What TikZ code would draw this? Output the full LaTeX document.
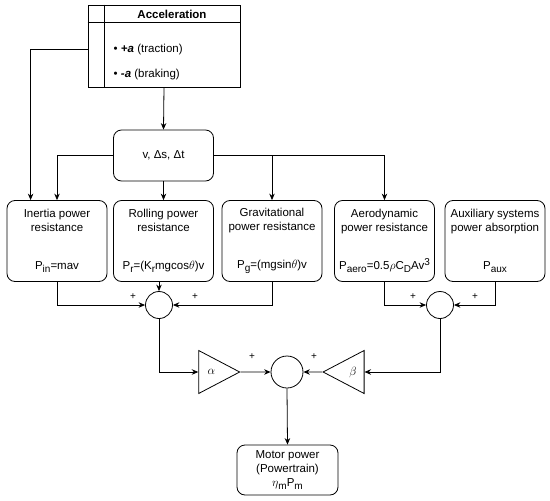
\documentclass[tikz,border=0pt]{standalone}
\usepackage{fontspec}
\setmainfont{Liberation Sans}
\usetikzlibrary{arrows.meta, positioning, calc, shapes.geometric}

\newcommand{\psub}[1]{\raisebox{-2.5pt}{\fontsize{10}{10}\selectfont #1}}
\newcommand{\psup}[1]{\raisebox{4.5pt}{\fontsize{10}{10}\selectfont #1}}

\begin{document}
\begin{tikzpicture}[x=1pt, y=-1pt,
			box/.style={draw, rounded corners=8pt, minimum width=100pt, minimum height=81pt, align=center, inner sep=0pt, font=\fontsize{11.5}{14}\selectfont},
			sumnode/.style={circle, draw, minimum size=27pt, inner sep=0pt},
			gain/.style={isosceles triangle, isosceles triangle stretches, draw, minimum width=43pt, minimum height=41pt, inner sep=0pt, font=\fontsize{12}{14}\selectfont},
			conn/.style={-{Stealth[length=6.5pt, width=5.5pt]}},
			sign/.style={font=\fontsize{10}{12}\selectfont, inner sep=0pt},
			every path/.style={line width=0.8pt}
			]
			\useasboundingbox (0,0) rectangle (550,501);
			
			% --- ACCELERATION TABLE ---
			\node[draw, rectangle, minimum width=152pt, minimum height=82pt, inner sep=0pt] (accel) at (164,46) {};
			\draw ($(accel.north west)+(0,18)$) -- ($(accel.north east)+(0,18)$);
			\draw ($(accel.north west)+(17,0)$) -- ($(accel.south west)+(17,0)$);
			\node[font=\fontsize{11.5}{14}\selectfont\bfseries] (acctitle) at (172,14) {Acceleration};
			\node[font=\fontsize{11.5}{14}\selectfont, anchor=west] (acctrac) at (110,50) {\textbullet\ \textbf{\textit{+a}} (traction)};
			\node[font=\fontsize{11.5}{14}\selectfont, anchor=west] (accbrak) at (110,75) {\textbullet\ \textbf{\textit{-a}} (braking)};
			
			% --- KINEMATICS ---
			\node[box, minimum height=51pt] (vbox) at (163.5,155.5) {v, Δs, Δt};
			
			% --- POWER RESISTANCES ---
			\node[box] (inertia) at (57,241) {Inertia power\\resistance\\[24pt]P\psub{in}=mav};
			\node[box] (rolling) at (163.5,241) {Rolling power\\resistance\\[24pt]P\psub{r}=(K\psub{r}mgcos$\theta$)v};
			\node[box] (grav) at (272,241) {Gravitational\\power resistance\\[24pt]P\psub{g}=(mgsin$\theta$)v};
			\node[box] (aero) at (384.5,241) {Aerodynamic\\power resistance\\[24pt]P\psub{aero}=0.5$\rho$C\psub{D}Av\psup{3}};
			\node[box] (aux) at (495,241) {Auxiliary systems\\power absorption\\[24pt]P\psub{aux}};
			
			% --- SUMS AND GAINS ---
			\node[sumnode] (sum1) at (159,305) {};
			\node[sumnode] (sum2) at (440,305) {};
			\node[gain] (alpha) at (211.5,372) {$\alpha$};
			\node[gain, shape border rotate=180] (beta) at (353,372) {$\beta$};
			\node[sumnode, minimum size=32pt] (sumall) at (287,372) {};
			
			% --- MOTOR ---
			\node[box, minimum width=101pt, minimum height=50pt] (motor) at (287.5,470) {Motor power\\(Powertrain)\\$\eta$\psub{m}P\psub{m}};
			
			% Signos
			\foreach \n/\x/\y in {s1/133/297, s2/195/297, s3/413/297, s4/475/297, s5/252/357, s6/314/357}
			\node[sign] (\n) at (\x,\y) {+};
			
			% Conexiones
			\draw[conn] ($(accel.west)+(0,3)$) -| ($(inertia.north west)+(24,0)$);
			\draw[conn] (accel.south) -- (vbox.north);
			\draw[conn] (vbox.west) -| (inertia.north);
			\draw[conn] (vbox.south) -- (rolling.north);
			\draw[conn] (vbox.east) -| (aero.north);
			\draw[conn] (grav.north |- vbox.east) -- (grav.north);
			
			\draw[conn] (inertia.south) |- (sum1.west);
			\draw[conn] (sum1 |- rolling.south) -- (sum1.north);
			\draw[conn] (grav.south) |- (sum1.east);
			\draw[conn] (aero.south) |- (sum2.west);
			\draw[conn] (aux.south) |- (sum2.east);
			
			\draw[conn] (sum1.south) |- (alpha.west);
			\draw[conn] (alpha.east) -- (sumall.west);
			\draw[conn] (sum2.south) |- (beta.east);
			\draw[conn] (beta.west) -- (sumall.east);
			\draw[conn] (sumall.south) -- (motor.north);
			
		\end{tikzpicture}
\end{document}
